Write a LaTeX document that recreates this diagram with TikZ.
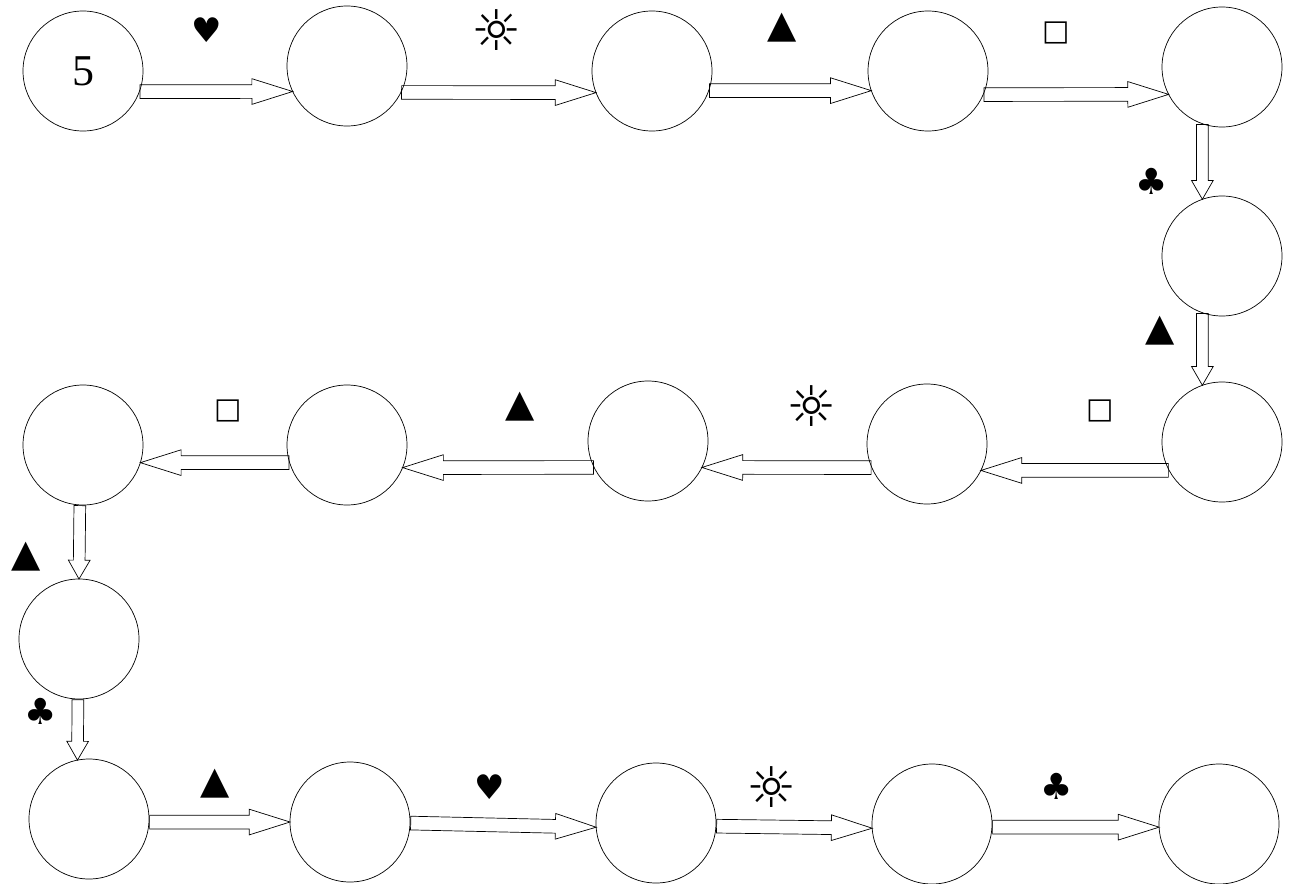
\documentclass[tikz,border=0pt]{standalone}
\usepackage{fontspec}
\setmainfont{Liberation Serif}
\newfontfamily\symfont{DejaVu Sans}
\usetikzlibrary{shapes.arrows,calc}
\tikzset{
  st/.style={draw,circle,minimum size=120pt,inner sep=0pt,line width=0.7pt,font=\fontsize{44}{44}\selectfont},
  blk/.style={to path={let \p1=(\tikztostart), \p2=(\tikztotarget), \n1={atan2(\y2-\y1,\x2-\x1)}, \n2={veclen(\x2-\x1,\y2-\y1)} in node[draw,single arrow,inner xsep=0pt,line width=0.7pt,#1,minimum height=\n2,rotate=\n1,anchor=tail] at (\p1) {}}},
  hhead/.style={inner ysep=6.5pt,single arrow head extend=6pt,single arrow tip angle=35},
  vhead/.style={inner ysep=5.5pt,single arrow head extend=5pt,single arrow tip angle=60},
  sym/.style={inner sep=0pt,font=\symfont\fontsize{#1}{#1}\selectfont},
}
\begin{document}
\begin{tikzpicture}[x=1pt,y=-1pt]
\useasboundingbox (0,0) rectangle (1292,883);
\fill[white] (0,0) rectangle (1292,883);
% top row
\node[st] (s1) at (83,71) {5};
\node[st] (s2) at (347,66) {};
\node[st] (s3) at (652,71) {};
\node[st] (s4) at (928,71) {};
\node[st] (s5) at (1222,67) {};
% right column
\node[st] (s6) at (1222,256) {};
\node[st] (s7) at (1222,442) {};
% middle row
\node[st] (s8) at (927,444) {};
\node[st] (s9) at (648,441) {};
\node[st] (s10) at (347,445) {};
\node[st] (s11) at (83,445) {};
% left column
\node[st] (s12) at (79,639) {};
% bottom row
\node[st] (s13) at (89,819) {};
\node[st] (s14) at (350,822) {};
\node[st] (s15) at (656,823) {};
\node[st] (s16) at (932,824) {};
\node[st] (s17) at (1219,824) {};
% block arrows
\path (s1.-20.5) to[blk=hhead] (s2.205.7);
\path (s2.-26.7) to[blk=hhead] (s3.201.5);
\path (s3.-19.5) to[blk=hhead] (s4.199.5);
\path (s4.-23) to[blk=hhead] (s5.207.8);
\path (s5.-109.5) to[blk=vhead] (s6.109.5);
\path (s6.-109.5) to[blk=vhead] (s7.109.5);
\path (s7.208.9) to[blk=hhead] (s8.-26.7);
\path (s8.203.6) to[blk=hhead] (s9.-26.7);
\path (s9.206.7) to[blk=hhead] (s10.-22.5);
\path (s10.197.5) to[blk=hhead] (s11.-17.5);
\path (s11.-93.3) to[blk=vhead] (s12.90);
\path (s12.-91) to[blk=vhead] (s13.101.5);
\path (s13.-3) to[blk=hhead] (s14.180);
\path (s14.-1) to[blk=hhead] (s15.184);
\path (s15.-3) to[blk=hhead] (s16.184);
\path (s16.-3) to[blk=hhead] (s17.183);
% labels
\node[sym=34] (l1) at (207,30) {♥};
\node[sym=56] (l2) at (497,30) {☼};
\node[sym=38] (l3) at (782,28) {▲};
\node[sym=29] (l4) at (1056,33) {□};
\node[sym=36] (l5) at (1152,181) {♣};
\node[sym=38] (l6) at (1160,331) {▲};
\node[sym=29] (l7) at (1100,411) {□};
\node[sym=56] (l8) at (812,406) {☼};
\node[sym=38] (l9) at (520,407) {▲};
\node[sym=29] (l10) at (228,411) {□};
\node[sym=38] (l11) at (26,557) {▲};
\node[sym=36] (l12) at (41,711) {♣};
\node[sym=38] (l13) at (215,784) {▲};
\node[sym=34] (l14) at (490,787) {♥};
\node[sym=56] (l15) at (772,787) {☼};
\node[sym=36] (l16) at (1057,786) {♣};
\end{tikzpicture}
\end{document}
